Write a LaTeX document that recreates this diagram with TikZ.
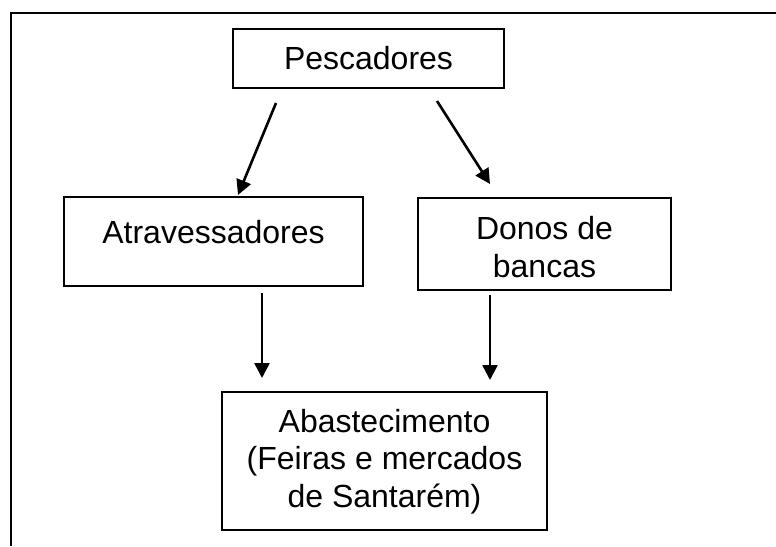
\documentclass[tikz,border=0pt]{standalone}
\usepackage{fontspec}
\setmainfont{Liberation Sans}
\usetikzlibrary{arrows.meta}
\begin{document}
\begin{tikzpicture}[x=1pt,y=-1pt,
  boxn/.style={draw=black,line width=2.2pt,rectangle,inner sep=0pt},
  lbl/.style={font=\fontsize{32}{37.5}\selectfont,align=center,inner sep=0pt,anchor=base},
  arr/.style={line width=2.6pt,-{Triangle[length=15pt,width=15pt]}}]
\useasboundingbox (0,0) rectangle (776,546);
% frame
\coordinate (fbl) at (11,546);
\coordinate (ftl) at (11,13);
\coordinate (ftr) at (776,13);
\draw[line width=2.2pt] (fbl) -- (ftl) -- (ftr);
% boxes
\node[boxn,minimum width=271pt,minimum height=59pt] (pes) at (368.5,58.5) {};
\node[boxn,minimum width=299pt,minimum height=89pt] (atr) at (213.5,241.5) {};
\node[boxn,minimum width=253pt,minimum height=92pt] (don) at (544.5,244) {};
\node[boxn,minimum width=325pt,minimum height=138pt] (aba) at (384.5,461) {};
% labels (base = baseline of the last line)
\node[lbl] (tpes) at (368.5,69) {Pescadores};
\node[lbl] (tatr) at (213.5,243) {Atravessadores};
\node[lbl] (tdon) at (544.5,277) {Donos de\\bancas};
\node[lbl] (taba) at (384.5,507) {Abastecimento\\(Feiras e mercados\\de Santarém)};
% connector end points
\coordinate (a1s) at (276,103);
\coordinate (a1e) at (238,195);
\coordinate (a2s) at (437,101);
\coordinate (a2e) at (490,184);
\coordinate (a3s) at (262,293);
\coordinate (a3e) at (262,378);
\coordinate (a4s) at (490,295);
\coordinate (a4e) at (490,380);
\draw[arr] (a1s) -- (a1e);
\draw[arr] (a2s) -- (a2e);
\draw[arr] (a3s) -- (a3e);
\draw[arr] (a4s) -- (a4e);
\end{tikzpicture}
\end{document}
